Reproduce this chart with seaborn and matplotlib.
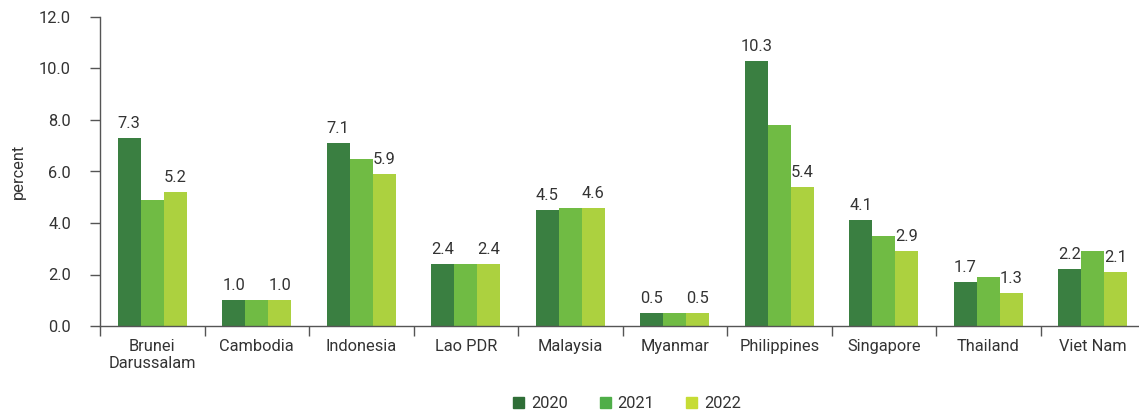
import matplotlib
matplotlib.use("Agg")
import matplotlib.pyplot as plt
import matplotlib.patches as mpatches
import seaborn as sns
import pandas as pd
import numpy as np

countries = ["Brunei\nDarussalam", "Cambodia", "Indonesia", "Lao PDR", "Malaysia",
             "Myanmar", "Philippines", "Singapore", "Thailand", "Viet Nam"]
years = ["2020", "2021", "2022"]
v2020 = [7.3, 1.0, 7.1, 2.4, 4.5, 0.5, 10.3, 4.1, 1.7, 2.2]
v2021 = [4.9, 1.0, 6.5, 2.4, 4.6, 0.5, 7.8, 3.5, 1.9, 2.9]
v2022 = [5.2, 1.0, 5.9, 2.4, 4.6, 0.5, 5.4, 2.9, 1.3, 2.1]
colors = ["#3a7f41", "#70bb44", "#acd13f"]
legend_colors = ["#2f6e37", "#4fae48", "#c6dc35"]

df = pd.DataFrame({
    "country": countries * 3,
    "year": [y for y in years for _ in countries],
    "value": v2020 + v2021 + v2022,
})

sns.set_style("white")
plt.rcParams["font.family"] = ["Roboto", "DejaVu Sans"]
text_color = "#333333"
fs = 11.8

fig = plt.figure(figsize=(11.39, 4.11), dpi=100)
ax = fig.add_axes([100/1139, 85/411, 1045/1139, 309/411])

sns.barplot(data=df, x="country", y="value", hue="year", palette=colors,
            width=0.66, saturation=1, ax=ax, order=countries, hue_order=years,
            legend=False, linewidth=0, edgecolor="none")

# Labels on 2020 and 2022 bars only
for cont, yr in zip(ax.containers, years):
    if yr in ("2020", "2022"):
        ax.bar_label(cont, fmt="%.1f", padding=5, fontsize=fs, color=text_color)

ax.set_ylim(0, 12)
ax.set_yticks(np.arange(0, 12.1, 2))
ax.set_yticklabels([f"{t:.1f}" for t in np.arange(0, 12.1, 2)])
ax.set_xlim(-0.5, len(countries) - 0.5)
ax.set_xlabel("")
ax.set_ylabel("percent", fontsize=fs, color=text_color, labelpad=9)

ax.set_xticks(np.arange(-0.5, len(countries), 1), minor=True)
ax.tick_params(axis="x", which="major", bottom=False, length=0, pad=9,
               labelsize=fs, labelcolor=text_color)
ax.tick_params(axis="x", which="minor", bottom=True, length=7, width=1,
               color="#555555", direction="out")
ax.tick_params(axis="y", which="major", left=True, length=7, width=1, color="#555555",
               direction="out", labelsize=fs, labelcolor=text_color, pad=14)

for s in ["top", "right"]:
    ax.spines[s].set_visible(False)
for s in ["left", "bottom"]:
    ax.spines[s].set_color("#555555")
    ax.spines[s].set_linewidth(1)

handles = [mpatches.Patch(color=c, label=y) for c, y in zip(legend_colors, years)]
leg = fig.legend(handles=handles, loc="center", bbox_to_anchor=(627/1139, 7.5/411), ncol=3,
                 frameon=False, fontsize=fs, handlelength=0.68, handleheight=0.68,
                 columnspacing=1.95, handletextpad=0.4, borderpad=0)
for t in leg.get_texts():
    t.set_color(text_color)

fig.savefig("out.png", dpi=100)
